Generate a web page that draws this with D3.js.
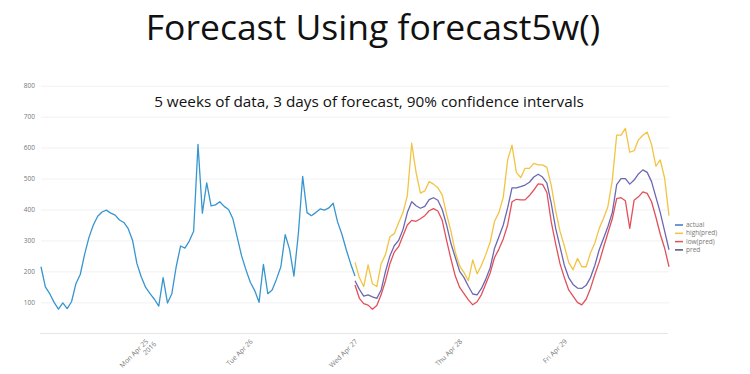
<!DOCTYPE html>
<html><head><meta charset="utf-8">
<script src="https://cdn.jsdelivr.net/npm/d3@7"></script>
<style>body{margin:0;background:#fff}svg{display:block}</style>
</head><body><svg id="c" width="750" height="374"></svg>
<script>
// ---- data ----
const title = "Forecast Using forecast5w()";
const subtitle = "5 weeks of data, 3 days of forecast, 90% confidence intervals";
const startTime = new Date(2016, 3, 24, 0, 0);   // Sun Apr 24 2016
const endTime = new Date(2016, 3, 30, 0, 0);
const stepHours = 1;
const yTicks = [100, 200, 300, 400, 500, 600, 700, 800];
const xTickDates = [new Date(2016,3,25), new Date(2016,3,26), new Date(2016,3,27), new Date(2016,3,28), new Date(2016,3,29)];
const xTickLabels = [["Mon Apr 25","2016"], ["Tue Apr 26"], ["Wed Apr 27"], ["Thu Apr 28"], ["Fri Apr 29"]];
const seriesNames = ["actual", "high(pred)", "low(pred)", "pred"];

// hourly values from Apr 24 00:00
const actual = [215,150,128,100,78,98,80,102,160,190,255,310,350,378,392,398,388,382,366,358,338,300,225,182,
  148,128,110,88,180,98,128,215,282,275,298,330,610,388,486,412,415,425,410,400,370,310,250,205,
  165,138,100,223,128,140,175,215,319,271,185,320,507,390,380,390,402,398,405,420,360,320,270,225,185];
// hourly values from Apr 27 00:00
const highPred = [229,180,151,221,160,151,225,255,312,322,357,390,445,614,520,453,460,490,482,470,447,385,330,262,
  217,196,170,237,192,220,255,295,362,390,440,560,608,520,503,533,533,549,544,544,536,478,396,330,
  282,229,205,242,215,215,260,292,339,372,410,495,640,640,662,585,590,625,640,650,610,540,560,501,380];
const lowPred = [156,113,96,91,78,90,125,170,225,262,280,315,350,365,362,370,380,396,403,395,365,300,240,185,
  148,128,108,92,102,125,160,195,245,272,305,350,425,433,431,431,445,463,483,481,455,360,290,225,
  180,140,120,100,92,110,145,190,230,278,325,370,435,438,428,339,430,441,457,452,425,375,320,275,215];
const pred = [170,142,120,124,118,113,140,200,250,283,300,335,390,425,412,404,410,432,438,430,400,350,290,245,
  200,180,152,127,124,145,175,212,275,312,350,405,470,470,474,479,488,505,514,505,485,420,340,280,
  220,180,158,146,145,155,180,220,270,307,345,390,480,500,500,482,495,515,528,520,490,440,390,330,270];
const forecastStart = new Date(2016, 3, 27, 0, 0);

const colors = {"actual":"#3795cf", "high(pred)":"#f2c443", "low(pred)":"#e2505a", "pred":"#6b68b3"};
const legendColors = {"actual":"#3d79b8", "high(pred)":"#f2c443", "low(pred)":"#e2505a", "pred":"#4f5570"};

// ---- drawing ----
const svg = d3.select("#c");
const x = d3.scaleTime().domain([startTime, endTime]).range([41, 669]);
const y = d3.scaleLinear().domain([0, 800]).range([333.3, 85.7]);

svg.append("text").attr("x", 373).attr("y", 40).attr("text-anchor", "middle")
  .attr("font-family", "Open Sans, sans-serif").attr("font-size", 35.5).attr("fill", "#111").text(title);

// gridlines
const yAxis = d3.axisLeft(y).tickValues(yTicks).tickSize(-628).tickPadding(5);
const gy = svg.append("g").attr("transform", "translate(41,0)").call(yAxis);
gy.select(".domain").remove();
gy.selectAll(".tick line").attr("stroke", "#f1f1f1");
gy.selectAll(".tick text").attr("font-family", "Open Sans, sans-serif").attr("font-size", 6.5).attr("fill", "#777").attr("x", -6);

svg.append("text").attr("x", 369).attr("y", 106.5).attr("text-anchor", "middle")
  .attr("font-family", "Open Sans, sans-serif").attr("font-size", 15.3).attr("fill", "#111").text(subtitle);

// bottom axis
const xAxis = d3.axisBottom(x).tickValues(xTickDates).tickSize(0).tickFormat("");
const gx = svg.append("g").attr("transform", "translate(0,333.5)").call(xAxis);
gx.select(".domain").attr("stroke", "#e6e6e6").attr("d", "M40,0H668");
gx.selectAll(".tick").each(function(d, i) {
  const t = d3.select(this).append("text")
    .attr("transform", "translate(1,7) rotate(-45)")
    .attr("text-anchor", "end").attr("font-family", "Open Sans, sans-serif")
    .attr("font-size", 6.8).attr("fill", "#777");
  xTickLabels[i].forEach((s, k) => {
    t.append("tspan").attr("x", k === 0 ? 0 : 4).attr("dy", k === 0 ? "0.32em" : "1.1em").text(s);
  });
});

function pts(vals, t0) {
  return vals.map((v, i) => ({t: new Date(t0.getTime() + i * stepHours * 3600000), v}));
}
const line = d3.line().x(d => x(d.t)).y(d => y(d.v));
const lines = [
  ["actual", pts(actual, startTime)],
  ["high(pred)", pts(highPred, forecastStart)],
  ["pred", pts(pred, forecastStart)],
  ["low(pred)", pts(lowPred, forecastStart)]
];
lines.forEach(([name, data]) => {
  svg.append("path").datum(data).attr("d", line).attr("fill", "none")
    .attr("stroke", colors[name]).attr("stroke-width", 1.3).attr("stroke-linejoin", "round");
});

// legend
const lg = svg.append("g").attr("transform", "translate(675,225)");
seriesNames.forEach((n, i) => {
  const g = lg.append("g").attr("transform", `translate(0,${i * 8.3})`);
  g.append("line").attr("x1", 0).attr("x2", 8).attr("stroke", legendColors[n]).attr("stroke-width", 1.5);
  g.append("text").attr("x", 11).attr("dy", "0.32em").attr("font-family", "Open Sans, sans-serif")
    .attr("font-size", 6.5).attr("fill", "#777").text(n);
});
</script></body></html>
